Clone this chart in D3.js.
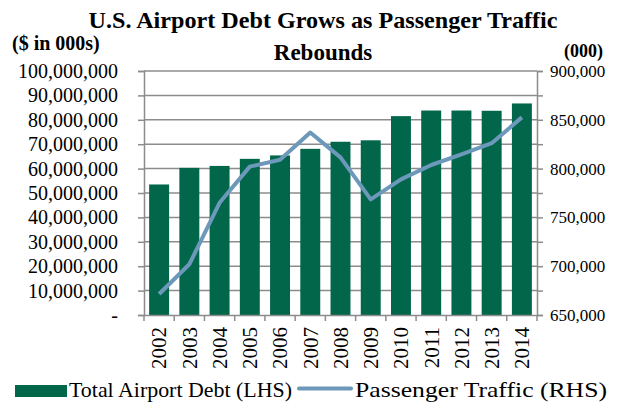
<!DOCTYPE html>
<html>
<head>
<meta charset="utf-8">
<script src="https://cdn.jsdelivr.net/npm/d3@7"></script>
<style>
  body { margin: 0; background: #fff; }
  text { font-family: "Liberation Serif", "Times New Roman", serif; }
</style>
</head>
<body>
<div id="chart"></div>
<script>
// 資料
const years = ["2002", "2003", "2004", "2005", "2006", "2007", "2008", "2009", "2010", "2011", "2012", "2013", "2014"];
const debt = [53500000, 60300000, 61100000, 64000000, 65400000, 68100000, 71000000, 71600000, 81500000, 83800000, 83800000, 83700000, 86700000];
const traffic = [671500, 702000, 765000, 802000, 809000, 837000, 811500, 768500, 789000, 803700, 814600, 826000, 852500];
const leftTicks = [0, 10000000, 20000000, 30000000, 40000000, 50000000, 60000000, 70000000, 80000000, 90000000, 100000000];
const rightTicks = [650000, 675000, 700000, 725000, 750000, 775000, 800000, 825000, 850000, 875000, 900000];

const W = 620, H = 403;
const margin = { top: 71, right: 83, bottom: 88, left: 144 };
const width = W - margin.left - margin.right;
const height = H - margin.top - margin.bottom;
const serif = '"Liberation Serif", "Times New Roman", serif';

const svg = d3.select("#chart").append("svg")
    .attr("width", W).attr("height", H);

const g = svg.append("g")
    .attr("transform", `translate(${margin.left},${margin.top})`);

const x = d3.scaleBand().domain(years).range([0, width]).paddingInner(0.34).paddingOuter(0.17);
const xCat = d3.scaleBand().domain(years).range([0, width]);
const yL = d3.scaleLinear().domain([0, 100000000]).range([height, 0]);
const yR = d3.scaleLinear().domain([650000, 900000]).range([height, 0]);

const grey = "#8c8c8c";

// 格線
g.selectAll(".grid").data(leftTicks.slice(1)).enter().append("line")
    .attr("x1", 0).attr("x2", width)
    .attr("y1", d => yL(d)).attr("y2", d => yL(d))
    .attr("stroke", grey).attr("stroke-width", 1.5);

// 長條
g.selectAll(".bar").data(debt).enter().append("rect")
    .attr("x", (d, i) => x(years[i]))
    .attr("width", x.bandwidth())
    .attr("y", d => yL(d))
    .attr("height", d => height - yL(d))
    .attr("fill", "#02664b");

// 折線
g.append("path").datum(traffic)
    .attr("fill", "none")
    .attr("stroke", "#6c98ba")
    .attr("stroke-width", 4)
    .attr("stroke-linejoin", "round")
    .attr("d", d3.line()
        .x((d, i) => xCat(years[i]) + xCat.bandwidth() / 2)
        .y(d => yR(d)));

// 左軸
const fmtL = d => d === 0 ? "-" : d3.format(",")(d);
const axL = g.append("g")
    .call(d3.axisLeft(yL).tickValues(leftTicks).tickFormat(fmtL).tickSize(6).tickPadding(20));
axL.selectAll("text").style("font-size", "20px").style("font-family", serif).attr("fill", "#000");

// 右軸
const axR = g.append("g").attr("transform", `translate(${width},0)`)
    .call(d3.axisRight(yR).tickValues(rightTicks)
        .tickFormat(d => d % 50000 === 0 ? d3.format(",")(d) : "").tickSize(6).tickPadding(7));
axR.selectAll("text").style("font-size", "17px").style("font-family", serif).attr("fill", "#000");

// X 軸
const axX = g.append("g").attr("transform", `translate(0,${height})`)
    .call(d3.axisBottom(xCat).tickSize(0).tickPadding(6));
axX.selectAll("text")
    .attr("transform", "rotate(-90)")
    .attr("text-anchor", "end")
    .attr("x", -12).attr("y", 0).attr("dy", "0.35em")
    .style("font-size", "21px").style("font-family", serif).attr("fill", "#000");
// 類別分隔刻度
g.append("g").selectAll("line").data(d3.range(years.length + 1)).enter().append("line")
    .attr("x1", i => i * xCat.step()).attr("x2", i => i * xCat.step())
    .attr("y1", height).attr("y2", height + 6)
    .attr("stroke", grey).attr("stroke-width", 1.5);

[axL, axR, axX].forEach(a => {
    a.select(".domain").attr("stroke", grey).attr("stroke-width", 1.5);
    a.selectAll(".tick line").attr("stroke", grey).attr("stroke-width", 1.5);
});

// 標題
svg.append("text").attr("x", 323).attr("y", 28).attr("text-anchor", "middle")
    .attr("textLength", 469).attr("lengthAdjust", "spacingAndGlyphs")
    .style("font-size", "23px").style("font-weight", "bold").text("U.S. Airport Debt Grows as Passenger Traffic");
svg.append("text").attr("x", 323).attr("y", 60).attr("text-anchor", "middle")
    .style("font-size", "23px").style("font-weight", "bold").text("Rebounds");
svg.append("text").attr("x", 12).attr("y", 50)
    .style("font-size", "20px").style("font-weight", "bold").text("($ in 000s)");
svg.append("text").attr("x", 564).attr("y", 57)
    .style("font-size", "18px").style("font-weight", "bold").text("(000)");

// 圖例
const lg = svg.append("g");
lg.append("rect").attr("x", 15).attr("y", 385).attr("width", 52).attr("height", 12).attr("fill", "#02664b");
lg.append("text").attr("x", 69).attr("y", 397)
    .attr("textLength", 223).attr("lengthAdjust", "spacingAndGlyphs")
    .style("font-size", "21px").text("Total Airport Debt (LHS)");
lg.append("line").attr("x1", 299).attr("x2", 351).attr("y1", 388.5).attr("y2", 388.5)
    .attr("stroke", "#6c98ba").attr("stroke-width", 4).attr("stroke-linecap", "round");
lg.append("text").attr("x", 355).attr("y", 397)
    .attr("textLength", 252).attr("lengthAdjust", "spacingAndGlyphs")
    .style("font-size", "21px").text("Passenger Traffic (RHS)");
</script>
</body>
</html>
